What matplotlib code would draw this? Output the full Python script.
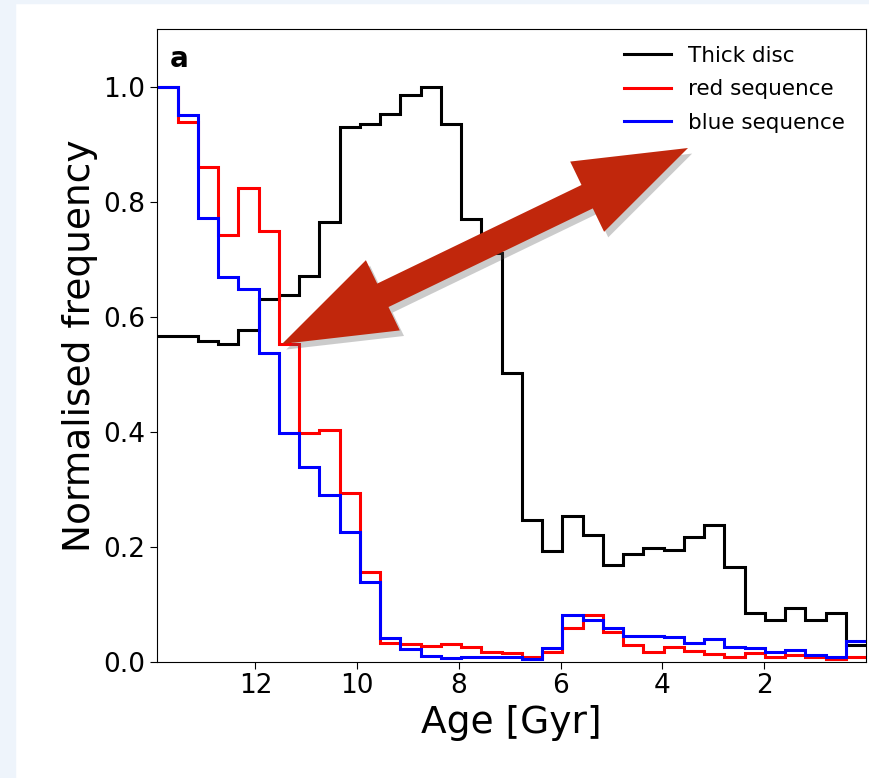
import numpy as np
import matplotlib
matplotlib.use("Agg")
import matplotlib.pyplot as plt
from matplotlib.patches import Polygon, Rectangle
from matplotlib import patheffects

# age bins, oldest first (left of the reversed axis)
age_edges = np.linspace(13.93, 0.0, 36)

thick_disc = [0.566, 0.566, 0.558, 0.552, 0.576, 0.630, 0.637, 0.670, 0.764, 0.930,
              0.934, 0.952, 0.986, 1.000, 0.934, 0.769, 0.710, 0.502, 0.246, 0.193,
              0.254, 0.220, 0.168, 0.188, 0.197, 0.195, 0.216, 0.237, 0.165, 0.084,
              0.072, 0.093, 0.072, 0.084, 0.029]

red_seq = [1.000, 0.939, 0.860, 0.741, 0.823, 0.748, 0.552, 0.398, 0.403, 0.293,
           0.156, 0.033, 0.031, 0.028, 0.031, 0.026, 0.017, 0.015, 0.008, 0.016,
           0.058, 0.081, 0.052, 0.029, 0.016, 0.025, 0.019, 0.013, 0.009, 0.015,
           0.009, 0.012, 0.009, 0.005, 0.009]

blue_seq = [1.000, 0.951, 0.772, 0.668, 0.648, 0.537, 0.397, 0.338, 0.289, 0.225,
            0.139, 0.041, 0.022, 0.010, 0.006, 0.009, 0.009, 0.009, 0.005, 0.024,
            0.081, 0.072, 0.058, 0.045, 0.045, 0.043, 0.033, 0.039, 0.026, 0.024,
            0.017, 0.020, 0.012, 0.009, 0.036]

x_ticks = [12, 10, 8, 6, 4, 2]
y_ticks = [0.0, 0.2, 0.4, 0.6, 0.8, 1.0]

fig = plt.figure(figsize=(8.7, 7.78), dpi=100)
# pale slide border on the left and top
fig.patches.append(Rectangle((0, 0), 15 / 870, 1, transform=fig.transFigure,
                             color='#eef4fb', zorder=0))
fig.patches.append(Rectangle((0, 1 - 3 / 778), 1, 3 / 778, transform=fig.transFigure,
                             color='#eef4fb', zorder=0))

ax = fig.add_axes([0.1808, 0.1495, 0.8146, 0.8132])

edges = age_edges[::-1]
ax.stairs(thick_disc[::-1], edges, baseline=None, color='black', lw=2.2, label='Thick disc')
ax.stairs(red_seq[::-1], edges, baseline=None, color='red', lw=2.2, label='red sequence')
ax.stairs(blue_seq[::-1], edges, baseline=None, color='blue', lw=2.2, label='blue sequence')

ax.set_xlim(13.93, 0.0)
ax.set_ylim(0, 1.1)
ax.set_xticks(x_ticks)
ax.set_yticks(y_ticks)
ax.tick_params(labelsize=19, length=5)
ax.set_xlabel('Age [Gyr]', fontsize=27)
ax.set_ylabel('Normalised frequency', fontsize=27)
ax.text(0.018, 0.94, 'a', transform=ax.transAxes, fontsize=20, fontweight='bold')

ax.legend(loc='upper right', frameon=False, fontsize=15.5, handlelength=2.2,
          handletextpad=0.75, labelspacing=0.62, bbox_to_anchor=(0.997, 1.004))

# big red double arrow (figure pixel coordinates)
p1 = np.array([282.0, 344.0])
p2 = np.array([688.0, 148.0])
d = (p2 - p1) / np.linalg.norm(p2 - p1)
n = np.array([-d[1], d[0]])
hl, hw, sw = 112.0, 39.0, 13.0
b1 = p1 + d * hl
b2 = p2 - d * hl
pts = [p1, b1 + n * hw, b1 + n * sw, b2 + n * sw, b2 + n * hw, p2,
       b2 - n * hw, b2 - n * sw, b1 - n * sw, b1 - n * hw]
pts = np.array([[x / 100.0, (778 - y) / 100.0] for x, y in pts])
arrow = Polygon(pts, closed=True, transform=fig.dpi_scale_trans,
                facecolor='#c1270c', edgecolor='none', zorder=10)
arrow.set_path_effects([patheffects.withSimplePatchShadow(offset=(3, -4),
                        shadow_rgbFace='#555555', alpha=0.3)])
fig.patches.append(arrow)

fig.savefig('out.png', dpi=100)
